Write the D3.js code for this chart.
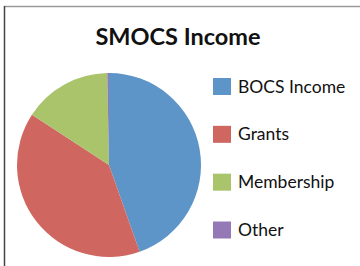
<!DOCTYPE html>
<html>
<head>
<meta charset="utf-8">
<script src="https://cdn.jsdelivr.net/npm/d3@7"></script>
<style>
  html, body { margin: 0; padding: 0; background: #fff; }
  svg { display: block; }
</style>
</head>
<body>
<svg id="chart" width="360" height="266"></svg>
<script>
const categories = ["BOCS Income", "Grants", "Membership", "Other"];
const values = [44.6, 39.6, 15.5, 0.3];
const colors = ["#5e95c9", "#cf6660", "#a9c46b", "#9579b7"];

const svg = d3.select("#chart");
const width = 360;
const height = 266;

// frame: light top edge, dark left edge
svg.append("line")
  .attr("x1", 4).attr("y1", 6.5).attr("x2", width).attr("y2", 6.5)
  .attr("stroke", "#9a9a9a").attr("stroke-width", 1.5);
svg.append("line")
  .attr("x1", 4.5).attr("y1", 6).attr("x2", 4.5).attr("y2", height)
  .attr("stroke", "#444").attr("stroke-width", 1.5);

svg.append("text")
  .attr("x", 178)
  .attr("y", 45)
  .attr("text-anchor", "middle")
  .attr("font-family", "Lato, 'Open Sans', sans-serif")
  .attr("font-weight", "bold")
  .attr("font-size", "23.5px")
  .attr("fill", "#111")
  .text("SMOCS Income");

const color = d3.scaleOrdinal().domain(categories).range(colors);

const pie = d3.pie().sort(null).value((d) => d.value);
const arc = d3.arc().innerRadius(0).outerRadius(92);

const slices = categories.map((name, i) => ({ name, value: values[i] }));

const pieGroup = svg.append("g").attr("transform", "translate(109,165)");
pieGroup.selectAll("path")
  .data(pie(slices))
  .join("path")
  .attr("d", arc)
  .attr("fill", (d) => color(d.data.name));

const legendY = d3.scalePoint().domain(categories).range([86.5, 230]);

const legend = svg.append("g")
  .selectAll("g")
  .data(categories)
  .join("g")
  .attr("transform", (d) => `translate(213,${legendY(d)})`);

legend.append("rect")
  .attr("x", 0)
  .attr("y", -8.5)
  .attr("width", 18)
  .attr("height", 17)
  .attr("fill", (d) => color(d));

legend.append("text")
  .attr("x", 25)
  .attr("y", 6)
  .attr("font-family", "Lato, 'Open Sans', sans-serif")
  .attr("font-size", "17.5px")
  .attr("fill", "#111")
  .text((d) => d);
</script>
</body>
</html>
